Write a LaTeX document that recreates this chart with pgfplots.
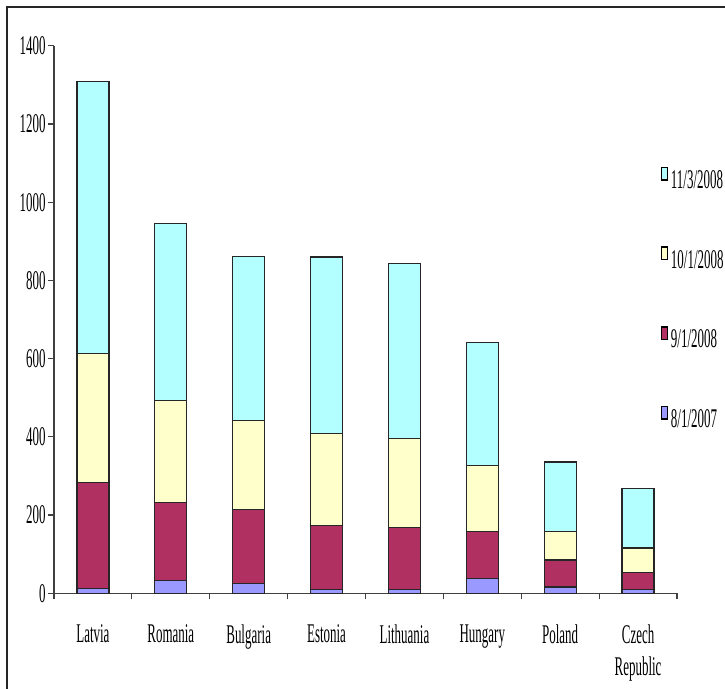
\documentclass[border=0pt]{standalone}
\usepackage{pgfplots}
\pgfplotsset{compat=1.18}
\usepackage{fontspec}
\setmainfont{Liberation Serif}[FakeStretch=0.48]
\definecolor{cCyan}{HTML}{B3FFFF}
\definecolor{cYellow}{HTML}{FFFFCC}
\definecolor{cPlum}{HTML}{B03062}
\definecolor{cLav}{HTML}{9999FF}
\begin{document}
\fontsize{13.5}{16}\selectfont
\begin{tikzpicture}
\path[use as bounding box] (0,0) rectangle (362.5pt,344.5pt);
\begin{scope}
\clip (0,0) rectangle (362.5pt,344.5pt);
\draw[line width=0.9pt, black!85] (3.5pt,-2pt) -- (3.5pt,341pt) -- (366pt,341pt);
\begin{axis}[
  at={(27pt,47.85pt)}, anchor=south west,
  scale only axis, width=311.5pt, height=273.7pt,
  xmin=-0.5, xmax=7.5, ymin=0, ymax=1400,
  ybar stacked, bar width=16pt,
  axis x line*=bottom, axis y line*=left,
  axis line style={-, black!75, line width=0.6pt},
  ytick={0,200,...,1400},
  /pgf/number format/1000 sep={},
  /pgf/number format/assume math mode=true,
  xtick={-0.5,0.5,...,7.5}, xticklabels={},
  extra x ticks={0,1,2,3,4,5,6,7},
  extra x tick labels={Latvia,Romania,Bulgaria,Estonia,Lithuania,Hungary,Poland,{Czech\\Republic}},
  extra x tick style={major tick length=0pt},
  tick align=outside, major tick length=3pt,
  tick style={black!75, line width=0.6pt},
  xticklabel style={align=center, anchor=north, yshift=-11pt},
  yticklabel style={inner sep=1pt},
  every axis plot/.append style={draw=black!85, line width=0.6pt},
  reverse legend,
  legend cell align=left,
  legend style={at={(axis description cs:0.973,0.78)}, anchor=north west,
    draw=none, fill=none, inner sep=0pt, row sep=27pt, column sep=1.5pt,
    nodes={inner sep=0pt}},
  legend image code/.code={\draw[#1, draw=black, line width=0.7pt] (0pt,0.8pt) rectangle (3pt,7pt);},
]
\addplot[fill=cLav] coordinates {(0,12) (1,33) (2,26) (3,10) (4,10) (5,37) (6,16) (7,10)};
\addlegendentry{8/1/2007}
\addplot[fill=cPlum] coordinates {(0,272) (1,199) (2,188) (3,163) (4,159) (5,121) (6,69) (7,43)};
\addlegendentry{9/1/2008}
\addplot[fill=cYellow] coordinates {(0,330) (1,262) (2,227) (3,236) (4,226) (5,168) (6,73) (7,63)};
\addlegendentry{10/1/2008}
\addplot[fill=cCyan] coordinates {(0,694) (1,451) (2,421) (3,451) (4,449) (5,315) (6,178) (7,151)};
\addlegendentry{11/3/2008}
\end{axis}
\end{scope}
\end{tikzpicture}
\end{document}
